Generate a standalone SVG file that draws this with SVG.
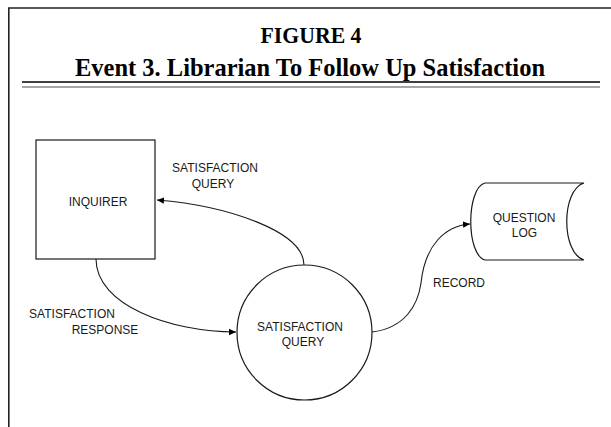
<svg xmlns="http://www.w3.org/2000/svg" width="611" height="427" viewBox="0 0 611 427">
<style>
.t{font-family:"Liberation Serif","Times New Roman",serif;font-weight:bold;fill:#000;text-anchor:middle}
.l{font-family:"Liberation Sans",Arial,sans-serif;font-size:12px;fill:#1a1a1a;text-anchor:middle}
.s{fill:#fff;stroke:#1a1a1a;stroke-width:1.2}
.c{fill:none;stroke:#1a1a1a;stroke-width:1.1}
</style>
<defs>
<marker id="ah" markerWidth="8" markerHeight="8" refX="7" refY="4" orient="auto" markerUnits="userSpaceOnUse">
<path d="M0,0.8 L7,4 L0,7.2 Z" fill="#000"/>
</marker>
</defs>
<rect width="611" height="427" fill="#fff"/>
<g id="frame">
<path d="M8.8,427 L8.8,8 L611,8" fill="none" stroke="#222" stroke-width="1.6"/>
<line x1="22" y1="82" x2="600" y2="82" stroke="#000" stroke-width="1.4"/>
<line x1="22" y1="87" x2="600" y2="87" stroke="#888" stroke-width="1.6"/>
<text class="t" x="311" y="42.5" font-size="22.5" textLength="101" lengthAdjust="spacingAndGlyphs">FIGURE 4</text>
<text class="t" x="310" y="75.5" font-size="24.5" textLength="470" lengthAdjust="spacingAndGlyphs">Event 3. Librarian To Follow Up Satisfaction</text>
</g>
<g id="connectors">
<path class="c" d="M304,265 C304,232 230,206 157,200" marker-end="url(#ah)"/>
<path class="c" d="M96,259 C96,305 170,332 236,332" marker-end="url(#ah)"/>
<path class="c" d="M372,332 C405,328 418,305 421,283 C425,245 445,226 470,224" marker-end="url(#ah)"/>
</g>
<g id="inquirer">
<rect class="s" x="36" y="140" width="119" height="119"/>
<text class="l" x="98" y="206">INQUIRER</text>
</g>
<g id="satisfaction-query">
<circle class="s" cx="304.5" cy="332.5" r="67.5"/>
<text class="l" x="300" y="331">SATISFACTION</text>
<text class="l" x="303" y="346">QUERY</text>
</g>
<g id="question-log">
<path class="s" d="M485,183 L584,183 C561,190 561,253 584,260 L485,260 C466,255 466,188 485,183 Z"/>
<text class="l" x="524" y="221.5">QUESTION</text>
<text class="l" x="524.5" y="237">LOG</text>
</g>
<g id="labels">
<text class="l" x="215" y="172">SATISFACTION</text>
<text class="l" x="213" y="187.5">QUERY</text>
<text class="l" x="72" y="318">SATISFACTION</text>
<text class="l" x="105" y="334">RESPONSE</text>
<text class="l" x="459" y="286.5">RECORD</text>
</g>
</svg>
